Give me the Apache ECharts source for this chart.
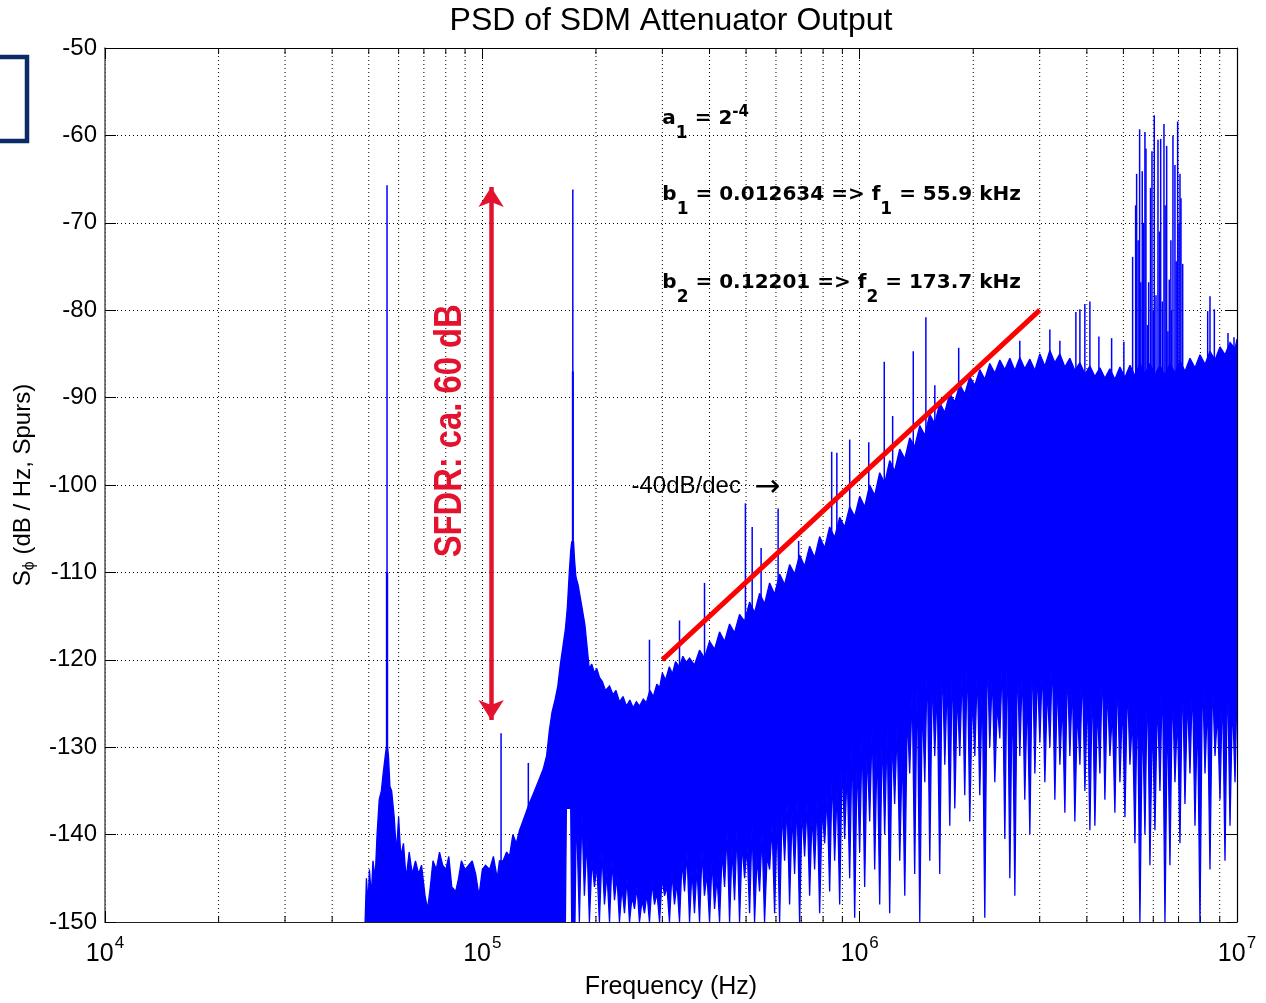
<!DOCTYPE html>
<html>
<head>
<meta charset="utf-8">
<title>PSD of SDM Attenuator Output</title>
<script src="https://cdn.jsdelivr.net/npm/echarts@6/dist/echarts.min.js"></script>
<style>
html, body { margin: 0; padding: 0; background: #fff; }
#main { width: 1266px; height: 1003px; }
</style>
</head>
<body>
<div id="main"></div>
<script>
// upper edge of the noise mass [kHz, dB]
var noiseTop = [
  [48.9,-150],[49.3,-145],[49.8,-148],[50.2,-144],[50.8,-147],[51.3,-143],[52.0,-145],[52.6,-140],[53.3,-136],[54.0,-135],
  [54.6,-133],[55.3,-131],[55.9,-129.5],[56.4,-131],[56.9,-134.5],[57.5,-135],[58.4,-138],[59.2,-142],[60.0,-138],[60.8,-142.5],
  [61.8,-141],[62.8,-145],[64.0,-142],[65.2,-144.5],[66.5,-143],[67.8,-144.5],[69.0,-143.5],[70.5,-147],[71.6,-148.5],[72.8,-146],
  [74.0,-143],[75.5,-144],[77.0,-142],[78.5,-143.5],[80.0,-144],[81.5,-142.5],[83.0,-146],[85.0,-146.5],[86.5,-145],[88.0,-143],
  [90.0,-144],[92.0,-143.5],[94.0,-143],[96.0,-144.5],[98.0,-147],[100,-144],[102,-143.5],[104.5,-144],[107,-142.5],[109.5,-145],
  [111,-143],[113.5,-143],[116,-142],[118,-142.5],[120.5,-140],[123,-141],[125.5,-139.5],[128,-138.5],[130.5,-137.5],[133,-136.5],
  [136,-135.5],[139,-134.5],[142,-133.5],[145,-132.5],[148,-131],[150.6,-128],[153,-126],[156,-124.5],[158.5,-123],[161,-120.5],
  [163.5,-118.5],[166,-116.5],[168,-114],[170,-110],[171.5,-107.5],[172.5,-106.5],[174.5,-106.5],[175.5,-108.5],[177,-110.5],[179.5,-111.5],
  [182,-113],[184.5,-114.5],[187,-116],[189.5,-118.5],[192,-121],[195,-120.5],[198.2,-121.5],[201,-121],[204.3,-122],[208,-122.5],
  [212,-123.5],[217.3,-123],[222,-124],[226,-123.5],[230.9,-124.8],[236,-124.2],[241,-125.3],[246,-124.6],[251,-125.5],[256,-124.8],
  [261,-125.3],[267,-124.5],[272,-124.9],[278,-123.5],[284,-124.2],[290,-122.8],[295,-123.2],[300,-121.5],[306,-122.3],[313,-120.8],
  [319,-121.6],[325,-120.2],[333,-120.8],[340,-119.6],[347,-120.3],
  [354.1,-119.8],[364.9,-120.6],[376.4,-118.9],[387.8,-119.8],[400.1,-117.9],[412.5,-118.8],[425.3,-116.8],[438.5,-117.9],[452.1,-115.9],[466.0,-116.9],
  [480.5,-114.8],[495.4,-115.6],[510.8,-113.4],[526.6,-114.6],[542.9,-112.4],[559.7,-113.6],[577.2,-111.2],[595.1,-112.5],[613.5,-110.2],[632.5,-111.4],
  [652.1,-109.1],[672.3,-110.2],[693.1,-108.0],[714.6,-109.3],[736.9,-107.0],[759.7,-108.3],[783.3,-105.9],[807.6,-107.2],[832.6,-104.8],[858.4,-106.0],
  [885.1,-103.7],[912.5,-104.8],[940.8,-102.5],[970.0,-103.6],[1000,-101.3],[1031,-102.5],[1063,-100.0],[1096,-101.2],[1130,-98.6],[1165,-99.8],
  [1201,-97.2],[1238,-98.4],[1277,-95.9],[1317,-97.0],[1357,-94.6],[1399,-95.6],[1443,-93.2],[1488,-94.3],[1534,-91.9],[1581,-93.0],
  [1630,-90.6],[1681,-91.7],[1733,-89.5],[1787,-90.5],[1842,-88.5],[1899,-89.6],[1958,-87.6],[2019,-88.6],[2081,-86.8],[2146,-87.9],
  [2212,-86.1],[2281,-87.2],[2352,-85.7],[2425,-86.8],[2500,-85.5],[2578,-86.9],[2657,-85.4],[2739,-86.7],[2825,-85.6],[2913,-86.9],
  [3003,-85.0],[3096,-86.4],[3192,-84.6],[3291,-86.0],[3393,-85.0],[3498,-86.5],[3606,-85.5],[3718,-86.9],[3834,-86.0],[3953,-87.3],
  [4075,-86.4],[4201,-87.6],[4332,-86.6],[4466,-87.8],[4604,-86.7],[4747,-87.9],[4895,-86.5],[5047,-87.7],[5203,-86.3],[5364,-87.5],
  [5530,-86.1],[5702,-87.3],[5878,-86.1],[6061,-87.4],[6249,-86.3],[6443,-87.5],[6642,-86.1],[6848,-87.2],[7060,-85.8],[7280,-87.0],
  [7505,-85.5],[7738,-86.6],[7978,-85.1],[8226,-86.2],[8480,-84.7],[8744,-85.7],[9014,-84.2],[9294,-85.1],[9582,-83.7],[9880,-84.4],
  [10000,-83.3]
];

// lower edge of the solid part up to the 173.7 kHz tone [kHz, dB]
var noiseBottom = [
  [48.9,-150],[166,-150],[167,-137],[171.5,-137],[172.5,-150],[176,-150],[177.5,-137]
];

// beyond it the lower edge is ragged: deepest points of the spikes [kHz, dB]
var fringeTips = [
  [180.8,-150],[186.4,-147],[192.2,-150],[198.2,-146],[204.3,-150],[210.7,-148],[217.3,-150],[224.0,-147.5],[230.9,-150],[238.1,-149],
  [245.5,-150],[253.1,-148.5],[260.9,-150],[269.0,-149],[277.3,-150],[285.9,-148],[294.9,-150],[304.0,-147],[313.3,-150],[323.0,-148],
  [333.1,-150],[343.4,-146.5],[354.1,-150],[364.9,-149],[376.4,-150],[387.8,-147],[400.1,-150],[412.5,-148.5],[425.3,-150],[438.5,-146],
  [452.1,-150],[466.0,-147.5],[480.5,-150],[495.4,-145],[510.8,-149],[526.6,-150],[542.9,-146.5],[559.7,-150],[577.2,-144],[595.1,-149],
  [613.5,-150],[632.5,-143],[652.1,-148],[672.3,-144.5],[693.1,-150],[714.6,-142.5],[736.9,-147],[759.7,-144],[783.3,-149],[807.6,-141],
  [832.6,-146.5],[858.4,-143],[885.1,-148],[912.5,-140.5],[940.8,-145],[970.0,-149.5],[1000,-142],[1031,-146],[1063,-138.5],[1096,-144],
  [1130,-148],[1165,-140],[1201,-149],[1238,-136.5],[1277,-143],[1317,-147],[1357,-133],[1399,-144.5],[1443,-150],[1488,-134],
  [1534,-143],[1581,-131],[1630,-144.5],[1681,-132],[1733,-139],[1787,-137],[1842,-131],[1899,-135.5],[1958,-138.5],[2019,-131],
  [2081,-135.5],[2146,-149.5],[2212,-130],[2281,-134],[2352,-129],[2425,-140.5],[2500,-145],[2578,-147],[2657,-131],[2739,-136],
  [2825,-140],[2913,-133],[3003,-129.5],[3096,-134],[3192,-130],[3291,-136],[3393,-132],[3498,-137.5],[3606,-131],[3718,-138.5],
  [3834,-132],[3953,-135],[4075,-139.5],[4201,-139],[4332,-133],[4466,-136],[4604,-131],[4747,-137.5],[4895,-134],[5047,-138],
  [5203,-132],[5364,-141],[5530,-150],[5702,-140],[5878,-143.5],[6061,-139.5],[6249,-135],[6443,-150],[6642,-143.5],[6848,-134],
  [7060,-141],[7280,-136.5],[7505,-133],[7738,-139],[7978,-150],[8226,-133],[8480,-144],[8744,-131],[9014,-136],[9294,-143],
  [9582,-139],[9880,-134]
];

// ... and the tops of the white gaps between those spikes [kHz, dB]
var fringeNotches = [
  [183.6,-137.5],[189.3,-140.5],[195.2,-142.9],[201.2,-143.5],[207.5,-142],[214,-144.4],[220.6,-143],[227.4,-144.8],[234.5,-146],[241.8,-145],
  [249.3,-147.1],[257,-146],[265,-147.5],[273.1,-146.7],[281.6,-145.5],[290.4,-146.7],[299.4,-145],[308.6,-146],[318.1,-144.4],[328,-145.5],
  [338.2,-143],[348.7,-142.1],[359.5,-144],[370.6,-143.7],[382.1,-142],[393.9,-144.5],[406.3,-143],[418.9,-144.8],[431.9,-142],[445.3,-139.8],
  [459,-141.5],[473.2,-139.5],[488,-141],[503.1,-141.4],[518.7,-139],[534.7,-142.5],[551.3,-140],[568.4,-142.5],[586.1,-139],[604.3,-138],
  [623,-137],[642.2,-136.5],[662.1,-137.5],[682.6,-136],[703.8,-137],[725.7,-136.5],[748.2,-137.5],[771.4,-136],[795.4,-137],[820,-135.5],
  [845.4,-133],[871.7,-134.5],[898.7,-131.5],[926.6,-132.5],[955.3,-129],[985,-131],[1015.4,-128.5],[1047,-130],[1079.4,-127.5],[1113,-129],
  [1147.4,-128],[1183,-127.5],[1219.4,-128.5],[1257.4,-127.5],[1297,-130],[1337,-126],[1378,-123.5],[1421,-121],[1465.4,-124.5],[1511,-120],
  [1557.4,-121.5],[1605.4,-123],[1655.4,-119.5],[1707,-122],[1760,-120],[1814.4,-123.5],[1870.4,-121],[1928.4,-119],[1988.4,-124],[2050,-121],
  [2113.4,-122.5],[2179,-118.5],[2246.4,-121.5],[2316.4,-125],[2388.4,-120],[2462.4,-117.5],[2539,-122.5],[2617.4,-119.5],[2698,-121],[2782,-123.5],
  [2869,-119],[2958,-121],[3049.4,-120.5],[3144,-123],[3241.4,-119.5],[3342,-122],[3445,-124.5],[3552,-120.5],[3662,-122.5],[3776,-125.5],
  [3893,-121],[4014,-123.5],[4138,-122],[4266,-125],[4399,-120.5],[4535,-123],[4675,-126],[4821,-121.5],[4971,-124.5],[5125,-122.5],
  [5283,-126.5],[5447,-123],[5616,-125.5],[5790,-122],[5969,-126.5],[6155,-124],[6346,-121.5],[6542,-125],[6745,-123],[6954,-126],
  [7170,-121.5],[7392,-124],[7621,-122.5],[7858,-125.5],[8102,-121],[8353,-124.5],[8612,-122],[8879,-126],[9154,-123],[9438,-121],
  [9731,-124.5],[10000,-123]
];

// tones and spurs sticking out of the noise [kHz, top dB, base dB]
var spurs = [
  [55.9,-65.7,-131],[55.75,-110,-131],[56.05,-110,-131],[112.1,-128.4,-144],[132.4,-131.8,-138],
  [173.7,-66.2,-108],[173.45,-87,-108],[173.95,-87,-108],
  [277.3,-117.7,-126],[333.1,-115.5,-122],[388,-111.2,-121],[498,-102.1,-117],[519,-104.8,-116],[548,-107.2,-114],
  [608,-102.7,-113],[689,-106.4,-110],[843,-96.2,-106],[870,-96.3,-105],[941,-94.8,-104],[1057,-95.1,-102],
  [1162,-85.9,-101],[1223,-92.1,-99],[1387,-84.7,-97],[1498,-80.8,-95],[1582,-88.6,-94],[1830,-84.3,-91],
  [2657,-83.5,-87],[3192,-82.2,-87],[3393,-83.5,-87],[3741,-80.2,-88],[3834,-79.9,-88],[3952,-79.3,-88],[4075,-79.0,-88],
  [4305,-83.0,-88],[4653,-83.2,-88],[5014,-83.6,-88],
  [5289,-73.9,-88],[5387,-68.0,-88],[5420,-64.4,-88],[5470,-72,-88],[5520,-59.3,-88],[5560,-76.8,-88],[5609,-64.1,-88],[5660,-70,-88],
  [5702,-59.6,-88],[5737,-61.5,-88],[5790,-81.7,-88],[5833,-76.8,-88],[5900,-66,-88],[5952,-61.8,-88],[6000,-80,-88],[6036,-57.7,-88],
  [6100,-78.3,-88],[6174,-60.5,-88],[6230,-71,-88],[6276,-60.4,-88],[6340,-79,-88],[6404,-58.7,-88],[6450,-68,-88],[6510,-61.2,-88],
  [6560,-82.4,-88],[6614,-76.5,-88],[6680,-72,-88],[6700,-80,-88],[6765,-60.0,-88],[6848,-63.4,-88],[6900,-74.4,-88],[6962,-58.4,-88],
  [7020,-70,-88],[7061,-64.4,-88],[7104,-67.2,-88],[7178,-74.7,-88],
  [8362,-80.1,-87],[8480,-78.4,-87],[8708,-79.9,-87],[9465,-82.6,-86],[9818,-83.1,-86]
];

// -40 dB/dec guide [Hz, dB]
var slopeLine = [[3e5, -120], [3e6, -80]];
// SFDR double arrow, tip to tip [Hz, dB]
var sfdrArrow = [[105.5e3, -65.9], [105.5e3, -126.9]];

// log grid lines between the decades
var minorTicks = [2e4,3e4,4e4,5e4,6e4,7e4,8e4,9e4, 2e5,3e5,4e5,5e5,6e5,7e5,8e5,9e5, 2e6,3e6,4e6,5e6,6e6,7e6,8e6,9e6];

var BLUE = '#0000ff';
var CRIMSON = '#e3122e';
var SANS = '"Liberation Sans", Arial, Helvetica, sans-serif';
var BOLD = '"DejaVu Sans", sans-serif';

function toHz(arr) {
  return arr.map(function(d) { return [d[0] * 1000].concat(d.slice(1)); });
}

function segmentRenderer(color, width) {
  return function(params, api) {
    var a = api.coord([api.value(0), api.value(1)]);
    var b = api.coord([api.value(0), api.value(2)]);
    return {
      type: 'line',
      shape: { x1: a[0], y1: a[1], x2: b[0], y2: b[1] },
      style: { stroke: color, lineWidth: width }
    };
  };
}

var topHz = toHz(noiseTop);
var bottomHz = toHz(noiseBottom.concat(fringeTips, fringeNotches)).sort(function(a, b) { return a[0] - b[0]; });

var myChart = echarts.init(document.getElementById('main'));

var option = {
  animation: false,
  backgroundColor: '#fff',
  grid: { left: 105, right: 29, top: 48, bottom: 81, containLabel: false, outerBoundsMode: 'none' },
  xAxis: [{
    type: 'log', logBase: 10, min: 1e4, max: 1e7,
    position: 'bottom',
    name: 'Frequency (Hz)', nameLocation: 'middle', nameGap: 53,
    nameTextStyle: { fontFamily: SANS, fontSize: 25, color: '#000' },
    axisLine: { show: true, lineStyle: { color: '#222', width: 1.2 } },
    axisTick: { show: true, inside: true, length: 11, lineStyle: { color: '#000' } },
    axisLabel: {
      margin: 13,
      formatter: function(v) { return '{b|10}{e|' + Math.round(Math.log10(v)) + '}'; },
      rich: {
        b: { fontFamily: SANS, fontSize: 25, color: '#000', verticalAlign: 'middle' },
        e: { fontFamily: SANS, fontSize: 17, color: '#000', verticalAlign: 'middle', padding: [0, 0, 21, 1] }
      }
    },
    splitLine: { show: true, lineStyle: { color: '#000', type: [1, 3], width: 1 } }
  }, {
    type: 'log', logBase: 10, min: 1e4, max: 1e7,
    position: 'top',
    axisLine: { show: true, lineStyle: { color: '#000', width: 1.2 } },
    axisTick: { show: true, inside: true, length: 11, lineStyle: { color: '#000' } },
    axisLabel: { show: false },
    splitLine: { show: false }
  }],
  yAxis: [{
    type: 'value', min: -150, max: -50, interval: 10,
    position: 'left',
    name: '{a|S}{s|ϕ}{a| (dB / Hz, Spurs)}', nameLocation: 'middle', nameGap: 58, nameRotate: 90,
    nameTextStyle: {
      rich: {
        a: { fontFamily: SANS, fontSize: 24, color: '#000', verticalAlign: 'middle' },
        s: { fontFamily: SANS, fontSize: 16, color: '#000', verticalAlign: 'middle', padding: [14, 0, 0, 0] }
      }
    },
    axisLine: { show: true, lineStyle: { color: '#555', width: 1.5 } },
    axisTick: { show: true, inside: true, length: 11, lineStyle: { color: '#000' } },
    axisLabel: { fontFamily: SANS, fontSize: 24, color: '#000', margin: 8 },
    splitLine: { show: true, lineStyle: { color: '#000', type: [1, 3], width: 1 } }
  }, {
    type: 'value', min: -150, max: -50, interval: 10,
    position: 'right',
    axisLine: { show: true, lineStyle: { color: '#000', width: 1.2 } },
    axisTick: { show: true, inside: true, length: 11, lineStyle: { color: '#000' } },
    axisLabel: { show: false },
    splitLine: { show: false }
  }],
  series: [{
    // dotted grid at 2..9 of every decade, with small ticks top and bottom
    type: 'custom', z: 1, silent: true, clip: false,
    data: minorTicks.map(function(f) { return [f, -150]; }),
    encode: { x: 0, y: 1 },
    renderItem: function(params, api) {
      var x = api.coord([api.value(0), -150])[0];
      var cs = params.coordSys;
      return {
        type: 'group',
        children: [
          { type: 'line', shape: { x1: x, y1: cs.y, x2: x, y2: cs.y + cs.height }, style: { stroke: '#000', lineWidth: 1, lineDash: [1, 3] } },
          { type: 'line', shape: { x1: x, y1: cs.y + cs.height, x2: x, y2: cs.y + cs.height - 6 }, style: { stroke: '#000', lineWidth: 1 } },
          { type: 'line', shape: { x1: x, y1: cs.y, x2: x, y2: cs.y + 6 }, style: { stroke: '#000', lineWidth: 1 } }
        ]
      };
    }
  }, {
    // body of the PSD with its ragged lower edge
    type: 'custom', z: 3, silent: true, clip: true,
    data: [[1e6, -100]],
    encode: { x: 0, y: 1 },
    renderItem: function(params, api) {
      var pts = [];
      var i;
      for (i = 0; i < topHz.length; i++) pts.push(api.coord([topHz[i][0], topHz[i][1]]));
      for (i = bottomHz.length - 1; i >= 0; i--) pts.push(api.coord([bottomHz[i][0], bottomHz[i][1]]));
      return { type: 'polygon', shape: { points: pts }, style: { fill: BLUE, stroke: BLUE, lineWidth: 1.3, lineJoin: 'miter', miterLimit: 2 } };
    }
  }, {
    // tones and spurs
    type: 'custom', z: 4, silent: true, clip: true,
    data: toHz(spurs),
    encode: { x: 0, y: [1, 2] },
    renderItem: segmentRenderer(BLUE, 1.5)
  }, {
    type: 'line', z: 5, silent: true,
    data: slopeLine,
    showSymbol: false, symbol: 'none',
    lineStyle: { color: '#ff0000', width: 5 },
    markLine: {
      silent: true,
      symbol: ['arrow', 'arrow'],
      symbolSize: [19, 20],
      label: { show: false },
      lineStyle: { color: CRIMSON, width: 4.5, type: 'solid' },
      emphasis: { disabled: true },
      data: [[{ coord: sfdrArrow[0] }, { coord: sfdrArrow[1] }]]
    }
  }]
};

myChart.setOption(option);

// text laid out in data coordinates
var notes = [
  { at: [3e5, -58.1], text: '{n|a}{s|1}{n| = 2}{p|-4}' },
  { at: [3e5, -66.8], text: '{n|b}{s|1}{n| = 0.012634 => f}{s|1}{n| = 55.9 kHz}' },
  { at: [3e5, -76.9], text: '{n|b}{s|2}{n| = 0.12201 => f}{s|2}{n| = 173.7 kHz}' }
];
var noteRich = {
  n: { fontFamily: BOLD, fontWeight: 'bold', fontSize: 20, color: '#000', verticalAlign: 'middle' },
  s: { fontFamily: BOLD, fontWeight: 'bold', fontSize: 17, color: '#000', verticalAlign: 'middle', padding: [29, 0, 0, 0] },
  p: { fontFamily: BOLD, fontWeight: 'bold', fontSize: 15, color: '#000', verticalAlign: 'middle', padding: [0, 0, 14, 0] }
};

function pix(f, db) {
  return myChart.convertToPixel({ xAxisIndex: 0, yAxisIndex: 0 }, [f, db]);
}

var graphics = notes.map(function(n) {
  var p = pix(n.at[0], n.at[1]);
  return {
    type: 'text', x: p[0], y: p[1], z: 10, silent: true,
    style: { text: n.text, rich: noteRich, align: 'left', verticalAlign: 'middle' }
  };
});

var slopeLabel = pix(248.5e3, -100.2);
graphics.push({
  type: 'text', x: slopeLabel[0], y: slopeLabel[1], z: 10, silent: true,
  style: {
    text: '{t|-40dB/dec  }{r|\u2192}',
    rich: {
      t: { fontFamily: SANS, fontSize: 24, color: '#000', verticalAlign: 'middle' },
      r: { fontFamily: BOLD, fontSize: 31, color: '#000', verticalAlign: 'middle', padding: [2, 0, 0, 0] }
    },
    align: 'left', verticalAlign: 'middle'
  }
});

var sfdrLabel = pix(82.3e3, -93.8);
graphics.push({
  type: 'text', x: sfdrLabel[0], y: sfdrLabel[1], rotation: Math.PI / 2, scaleX: 0.84, z: 10, silent: true,
  style: {
    text: 'SFDR: ca. 60 dB',
    font: 'bold 39px ' + SANS,
    fill: CRIMSON, align: 'center', verticalAlign: 'middle'
  }
});

graphics.push({
  type: 'text', x: 671, y: 21, z: 10, silent: true,
  style: { text: 'PSD of SDM Attenuator Output', font: '32px ' + SANS, fill: '#000', align: 'center', verticalAlign: 'middle' }
});

// box fragment cut off at the left edge
graphics.push({
  type: 'rect', z: 10, silent: true,
  shape: { x: -10, y: 57, width: 37, height: 84 },
  style: { fill: 'none', stroke: '#0b2a68', lineWidth: 4.5 }
});

myChart.setOption({ graphic: graphics });

window.addEventListener('resize', function() {
  myChart.resize();
});
</script>
</body>
</html>
